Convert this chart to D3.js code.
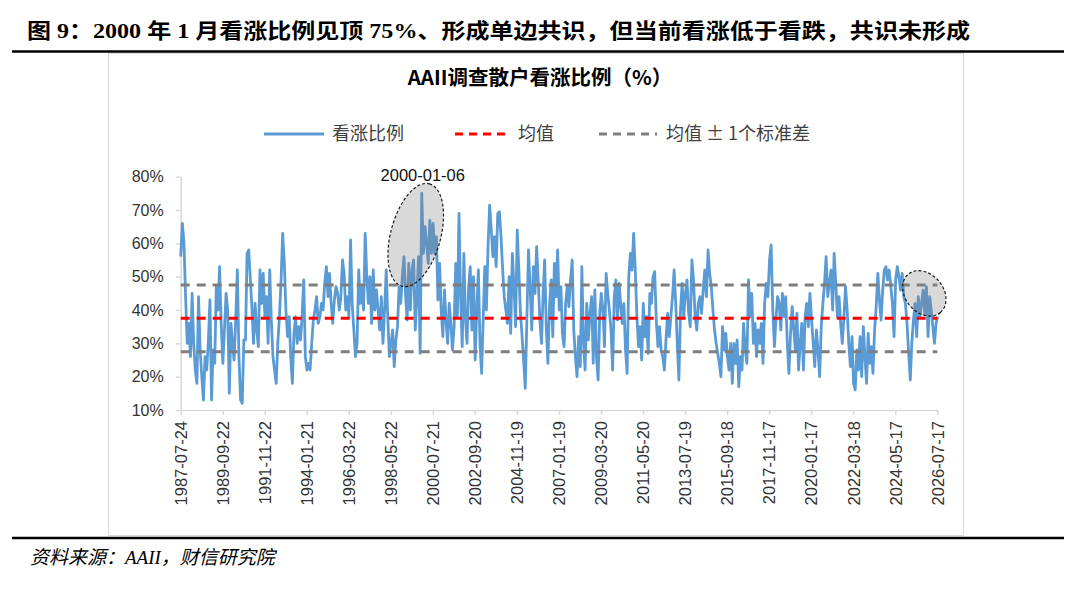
<!DOCTYPE html>
<html>
<head>
<meta charset="utf-8">
<script src="https://cdn.jsdelivr.net/npm/d3@7/dist/d3.min.js"></script>
<style>
    body { margin: 0; background: #fff; }
    svg { display: block; }
</style>
</head>
<body>
<div id="chart"></div>
<script>
// Monthly AAII bullish share (%), one array per decade
const bull1987to1997 = [56,66,60,44,30,36,26,45,30,22,
    18,44,28,20,13,26,22,30,43,13,
    28,24,47,40,53,36,24,34,45,40,
    15,36,30,25,37,52,26,13,12,31,
    31,57,58,49,41,30,42,34,29,52,
    42,51,38,44,30,52,37,26,22,18,
    30,38,49,63,54,40,32,38,26,18,
    33,38,30,35,31,38,49,26,22,24,
    22,30,37,40,44,36,38,42,40,48,
    53,44,51,42,36,43,47,45,40,44,
    55,51,40,44,38,61,42,34,26,30,
    52,42,47,40,63,50];
const bull1997to2006 = [42,50,36,52,40,46,40,34,44,30,
    40,52,38,26,30,34,23,31,35,47,
    42,50,56,44,37,54,40,52,55,34,
    44,56,27,75,57,65,60,54,67,57,
    66,57,62,43,54,40,32,46,37,30,
    42,36,28,35,54,38,69,44,29,57,
    38,30,47,53,34,50,25,40,52,30,
    21,38,53,40,59,71.5,64,56,62,53,
    69,69.5,62,52,44,40,36,50,33,57,
    47,35,64,52,39,32,25,16.5,37,58,
    47,34,53,45,59,49,37,30,44,55,
    35,24,41,49,32];
const bull2006to2016 = [54,44,58,40,47,33,29,42,47,41,
    49,55,34,26,20,32,23,53,30,22,
    42,31,39,44,24,46,26,19,39,45,
    40,29,51,45,40,34,22,44,49,37,
    48,42,36,42,28,21,50,57,52,63,
    52,38,29,35,25,42,32,38,27,45,
    42,50,51.5,37,29,35,28,26,22,31,
    39,32,38,44,52,42,29,19,40,48,
    38,45,49,39,35,55,49,38,34,42,
    44,39,46,52,44,58,51,47,40,34,
    30,27,24,20,35,28,33,26,22,30,
    18,30,24,31,17,26];
const bull2016to2026 = [22,36,28,24,49,38,45,30,36,26,
    34,30,36,24,42,48,44,55,59.5,40,
    29,37,44,42,34,45,38,44,30,21,
    33,41,34,28,39,22,30,36,22,38,
    42,35,45,37,30,23,34,28,20,35,
    42,48,56,44,48,52,40,57,48,38,
    44,36,30,38,47,40,30,23,32,18,
    16,28,22,32,20,35,26,18,33,24,
    29,21,34,41,51,43,37,46,52,53,
    49,52,47,42,32,49,53,50,46,51,
    44,42,36,27,19,30,37,42,32,44,
    38,42,46,39,47,32,44,40,35,30,
    36,38];

const meanValue = 37.5;
const stdValue = 10;

const xTickLabels = ["1987-07-24", "1989-09-22", "1991-11-22", "1994-01-21", "1996-03-22",
    "1998-05-22", "2000-07-21", "2002-09-20", "2004-11-19", "2007-01-19", "2009-03-20",
    "2011-05-20", "2013-07-19", "2015-09-18", "2017-11-17", "2020-01-17", "2022-03-18",
    "2024-05-17", "2026-07-17"];
const yTicks = [10, 20, 30, 40, 50, 60, 70, 80];

const legendNames = ["看涨比例", "均值", "均值 ± 1个标准差"];
const peakLabel = "2000-01-06";
const peakDate = "1999-12-24";
const nowDate = "2025-11-15";

const parseDay = d3.timeParse("%Y-%m-%d");
const startDate = parseDay(xTickLabels[0]);
const values = bull1987to1997.concat(bull1997to2006, bull2006to2016, bull2016to2026);
const data = values.map((v, i) => ({ date: d3.timeMonth.offset(startDate, i), v: v }));

const W = 1080, H = 591;
const plot = { left: 180.7, right: 937.3, top: 176.7, bottom: 410 };

const svg = d3.select("#chart").append("svg")
    .attr("width", W)
    .attr("height", H);

svg.append("rect").attr("width", W).attr("height", H).attr("fill", "#fff");

// Report heading and rules
svg.append("text")
    .attr("x", 27)
    .attr("y", 38)
    .attr("textLength", 943)
    .attr("lengthAdjust", "spacingAndGlyphs")
    .style("font-family", "'Liberation Serif', 'Noto Sans CJK SC', serif")
    .style("font-weight", "bold")
    .style("font-size", "21px")
    .text("图 9：2000 年 1 月看涨比例见顶 75%、形成单边共识，但当前看涨低于看跌，共识未形成");

svg.append("line")
    .attr("x1", 12).attr("x2", 1064)
    .attr("y1", 51.5).attr("y2", 51.5)
    .attr("stroke", "#000").attr("stroke-width", 2.5);

svg.append("rect")
    .attr("x", 108.5).attr("y", 53.5)
    .attr("width", 855).attr("height", 482)
    .attr("fill", "none")
    .attr("stroke", "#d9d9d9");

svg.append("line")
    .attr("x1", 12).attr("x2", 1064)
    .attr("y1", 538).attr("y2", 538)
    .attr("stroke", "#000").attr("stroke-width", 2.5);

svg.append("text")
    .attr("x", 30)
    .attr("y", 564)
    .style("font-family", "'Liberation Serif', 'Noto Sans CJK SC', serif")
    .style("font-style", "italic")
    .style("font-size", "19px")
    .text("资料来源：AAII，财信研究院");

// Chart title
svg.append("text")
    .attr("x", 540)
    .attr("y", 85)
    .attr("text-anchor", "middle")
    .style("font-family", "'Noto Sans CJK SC', sans-serif")
    .style("font-weight", "bold")
    .style("font-size", "20.5px")
    .text("AAII调查散户看涨比例（%）");

// Scales
const x = d3.scaleTime()
    .domain([startDate, parseDay(xTickLabels[xTickLabels.length - 1])])
    .range([plot.left, plot.right]);

const y = d3.scaleLinear()
    .domain([yTicks[0], yTicks[yTicks.length - 1]])
    .range([plot.bottom, plot.top]);

// Axes
const xAxis = svg.append("g")
    .attr("transform", `translate(0,${plot.bottom})`)
    .call(d3.axisBottom(x)
        .tickValues(xTickLabels.map(parseDay))
        .tickFormat(d3.timeFormat("%Y-%m-%d"))
        .tickSize(5)
        .tickSizeOuter(0));
xAxis.select(".domain").attr("stroke", "#d9d9d9").attr("stroke-width", 1.5);
xAxis.selectAll(".tick line").attr("stroke", "#d9d9d9").attr("stroke-width", 1.5);
xAxis.selectAll(".tick text")
    .attr("transform", "rotate(-90)")
    .attr("text-anchor", "end")
    .attr("x", -11)
    .attr("y", 0)
    .attr("dy", "0.35em")
    .attr("fill", "#333")
    .style("font-family", "'Liberation Sans', Arial, sans-serif")
    .style("font-size", "16.5px");

const yAxis = svg.append("g")
    .attr("transform", `translate(${plot.left},0)`)
    .call(d3.axisLeft(y)
        .tickValues(yTicks)
        .tickFormat(d => d + "%")
        .tickSize(5)
        .tickSizeOuter(0));
yAxis.select(".domain").attr("stroke", "#d9d9d9").attr("stroke-width", 1.5);
yAxis.selectAll(".tick line").attr("stroke", "#d9d9d9").attr("stroke-width", 1.5);
yAxis.selectAll(".tick text")
    .attr("x", -17)
    .attr("fill", "#333")
    .style("font-family", "'Liberation Sans', Arial, sans-serif")
    .style("font-size", "16px");

// Bullish share line
svg.append("path")
    .datum(data)
    .attr("fill", "none")
    .attr("stroke", "#5b9bd5")
    .attr("stroke-width", 2.8)
    .attr("stroke-linejoin", "round")
    .attr("d", d3.line()
        .x(d => x(d.date))
        .y(d => y(d.v)));

// Mean and +-1 std lines
const refLines = [
    { v: meanValue + stdValue, color: "#7f7f7f" },
    { v: meanValue - stdValue, color: "#7f7f7f" },
    { v: meanValue, color: "#ff0000" }
];
svg.selectAll(".ref")
    .data(refLines)
    .enter().append("line")
    .attr("class", "ref")
    .attr("x1", plot.left)
    .attr("x2", plot.right)
    .attr("y1", d => y(d.v))
    .attr("y2", d => y(d.v))
    .attr("stroke", d => d.color)
    .attr("stroke-width", 3)
    .attr("stroke-dasharray", "9,7");

// Highlight ellipses
const hlPeak = { cx: x(parseDay(peakDate)) - 6, cy: y(62.5), rx: 53, ry: 25, rot: -75 };
const hlNow = { cx: x(parseDay(nowDate)), cy: y(45), rx: 25, ry: 19, rot: 50 };
svg.selectAll(".hl")
    .data([hlPeak, hlNow])
    .enter().append("ellipse")
    .attr("class", "hl")
    .attr("transform", d => `translate(${d.cx},${d.cy}) rotate(${d.rot})`)
    .attr("rx", d => d.rx)
    .attr("ry", d => d.ry)
    .attr("fill", "rgba(130,130,130,0.3)")
    .attr("stroke", "#1a1a1a")
    .attr("stroke-width", 1.2)
    .attr("stroke-dasharray", "3,2");

svg.append("text")
    .attr("x", x(parseDay(peakDate)) + 1)
    .attr("y", 181)
    .attr("text-anchor", "middle")
    .attr("fill", "#111")
    .style("font-family", "'Liberation Sans', Arial, sans-serif")
    .style("font-size", "16.5px")
    .text(peakLabel);

// Legend
const legendY = 134;
const legend = svg.append("g").style("font-family", "'Noto Sans CJK SC', sans-serif");
const legendItems = [
    { x1: 264, x2: 324, tx: 332, color: "#5b9bd5", dash: null },
    { x1: 455, x2: 509, tx: 518, color: "#ff0000", dash: "8,6" },
    { x1: 599, x2: 657, tx: 666, color: "#7f7f7f", dash: "8,6" }
];
legendItems.forEach((d, i) => {
    legend.append("line")
        .attr("x1", d.x1).attr("x2", d.x2)
        .attr("y1", legendY).attr("y2", legendY)
        .attr("stroke", d.color)
        .attr("stroke-width", 3)
        .attr("stroke-dasharray", d.dash);
    legend.append("text")
        .attr("x", d.tx)
        .attr("y", legendY)
        .attr("dy", "0.35em")
        .attr("fill", "#404040")
        .style("font-size", "18px")
        .text(legendNames[i]);
});
</script>
</body>
</html>
